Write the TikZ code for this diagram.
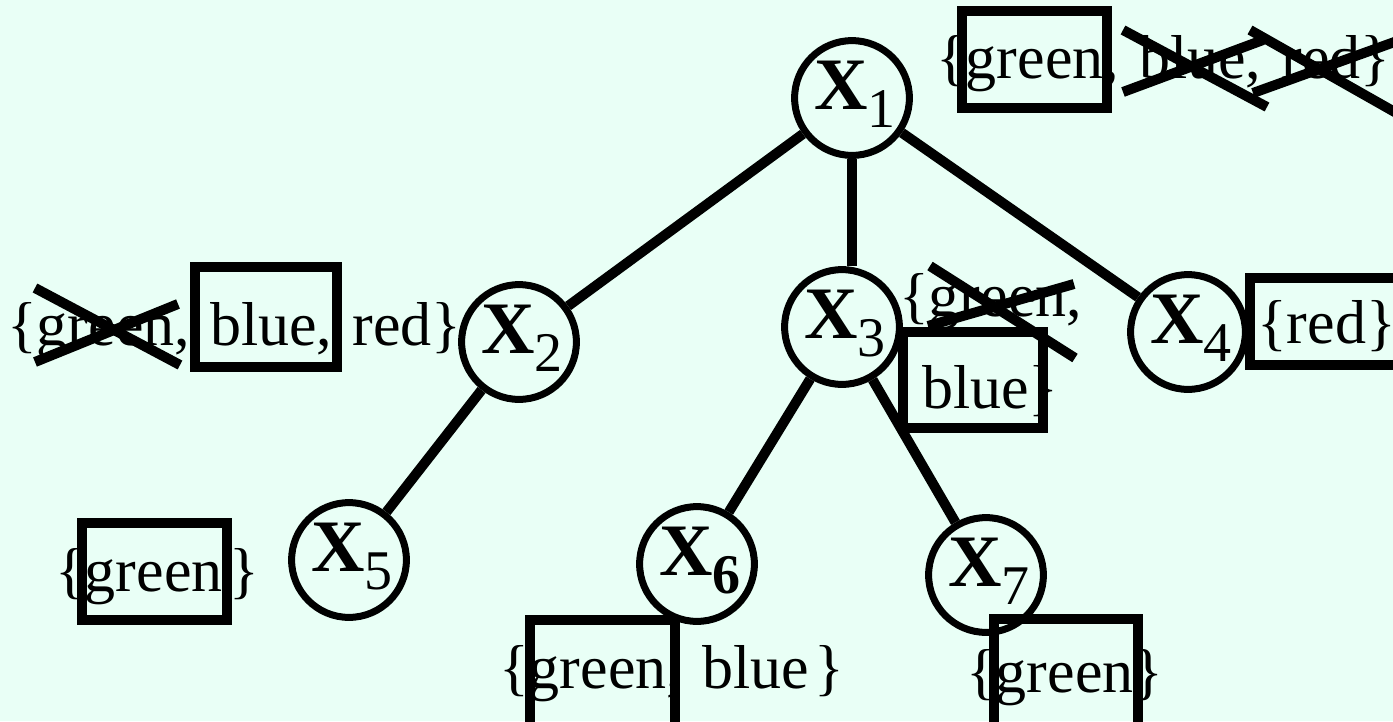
\documentclass[tikz,border=0pt]{standalone}
\usepackage{fontspec}
\setmainfont{Liberation Serif}
\definecolor{mint}{RGB}{233,255,246}
% variable name: bold X with a lowered index
\newcommand\xlab[1]{\hspace{6pt}{\fontsize{74}{80}\selectfont\bfseries X}\raisebox{-18pt}[0pt][26pt]{\fontsize{56}{60}\selectfont #1}}
% font of the domain lists, with wider word spaces
\newcommand\domfont{\fontsize{62}{72}\selectfont\spaceskip=20pt\relax}
\begin{document}
\begin{tikzpicture}[x=1pt,y=-1pt,
  vtx/.style={circle,draw,line width=7pt,minimum size=110pt,inner sep=0pt},
  edge/.style={line width=10pt},
  dom/.style={anchor=base west,inner sep=0pt,font=\domfont},
  keep/.style={line width=10pt},
  strike/.style={line width=10pt}]

\path[use as bounding box,fill=mint] (0,0) rectangle (1393,721);

% variables
\node[vtx] (x1) at (852,98)  {\xlab{1}};
\node[vtx] (x2) at (519,342) {\xlab{2}};
\node[vtx] (x3) at (842,327) {\xlab{3}};
\node[vtx] (x4) at (1188,332) {\xlab{4}};
\node[vtx] (x5) at (349,560) {\xlab{5}};
\node[vtx] (x6) at (697,564) {\xlab{\bfseries 6}};
\node[vtx] (x7) at (986,575) {\xlab{7}};

% constraint tree
\draw[edge] (x1) -- (x2);
\draw[edge] (x1.south) -- (x1.south |- x3.north);
\draw[edge] (x1) -- (x4);
\draw[edge] (x2) -- (x5);
\draw[edge] (x3) -- (x6);
\draw[edge] (x3) -- (x7);

% domains
\node[dom] (d1)  at (936,78)  {\{green, blue, red\}};
\node[dom] (d2)  at (7,345)   {\{green, blue, red\}};
\node[dom] (d3a) at (899,316) {\{green,};
\node[dom] (d3b) at (922,408) {blue\}};
\node[dom] (d4)  at (1257,343) {\{red\}};
\node[dom] (d5)  at (55,591)  {\{green\kern7pt\}};
\node[dom] (d6)  at (499,688) {\{green, blue\kern6pt\}};
\node[dom] (d7)  at (966,692) {\{green\}};

% values kept
\draw[keep] (962,11) rectangle (1107,108);
\draw[keep] (195,267) rectangle (337,367);
\draw[keep] (903,332) rectangle (1043,428);
\draw[keep] (1250,278) rectangle (1420,365);
\draw[keep] (82,523) rectangle (227,620);
\draw[keep] (530,620) rectangle (675,740);
\draw[keep] (994,619) rectangle (1138,740);

% values removed
\draw[strike] (1123,30) -- (1267,107);
\draw[strike] (1123,92) -- (1263,40);
\draw[strike] (1250,30) -- (1400,115);
\draw[strike] (1253,93) -- (1400,40);
\draw[strike] (35,288) -- (180,365);
\draw[strike] (35,362) -- (178,304);
\draw[strike] (930,266) -- (1075,358);
\draw[strike] (928,326) -- (1074,284);
\end{tikzpicture}
\end{document}
